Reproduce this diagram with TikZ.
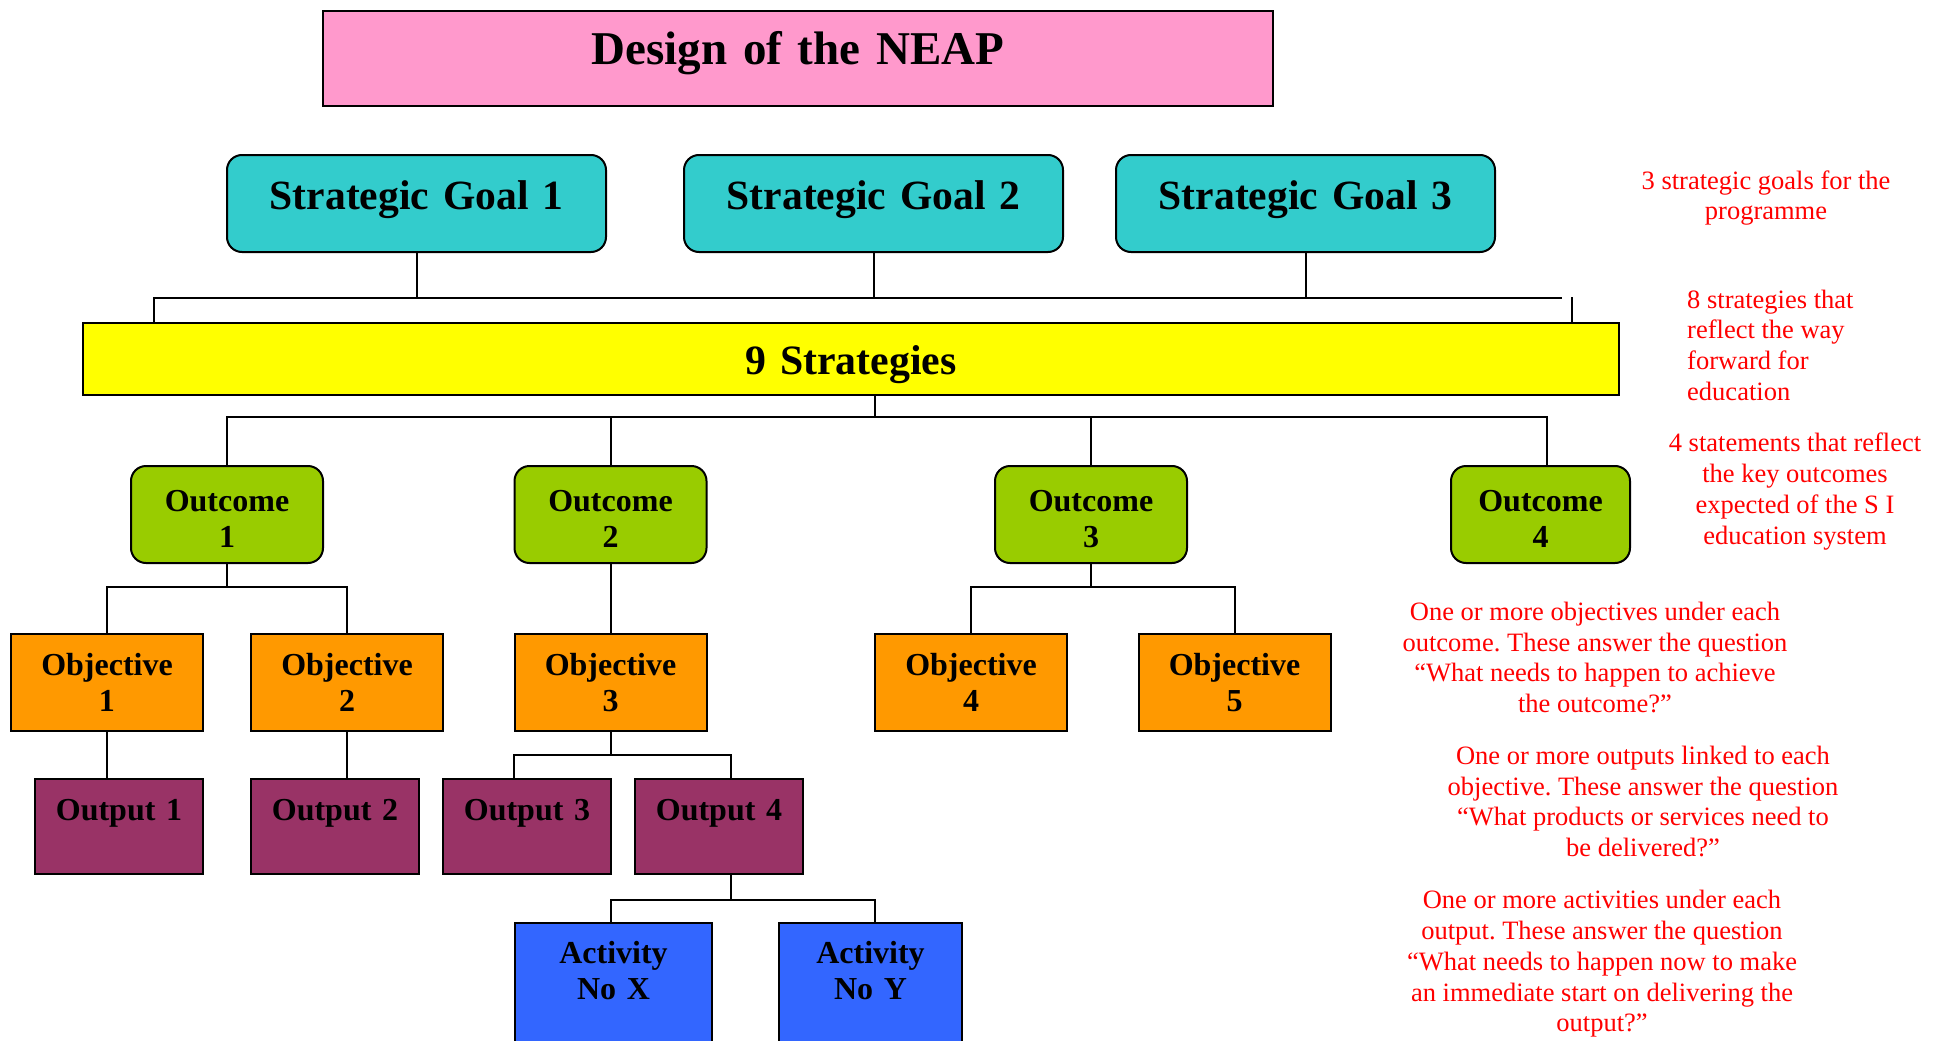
\documentclass[tikz,border=0pt]{standalone}
\usepackage{fontspec}
\setmainfont{Liberation Serif}
\usetikzlibrary{positioning}
\frenchspacing

\definecolor{titlepink}{HTML}{FF99CC}
\definecolor{goalteal}{HTML}{33CCCC}
\definecolor{stratyellow}{HTML}{FFFF00}
\definecolor{outcomegreen}{HTML}{99CC00}
\definecolor{objorange}{HTML}{FF9900}
\definecolor{outputplum}{HTML}{993366}
\definecolor{activityblue}{HTML}{3366FF}
\definecolor{notered}{HTML}{FF0000}

\begin{document}
\begin{tikzpicture}[x=1pt, y=-1pt,
  box/.style={draw, line width=2pt, inner sep=0pt, align=center, anchor=north, font=\bfseries\fontsize{32}{36}\selectfont},
  titlebox/.style={box, fill=titlepink, text width=950pt, text height=54pt, text depth=41pt, font=\bfseries\fontsize{47}{56}\selectfont},
  goalbox/.style={box, rounded corners=15pt, fill=goalteal, text width=379pt, text height=54pt, text depth=43pt, font=\bfseries\fontsize{41.6}{50}\selectfont},
  stratbox/.style={box, fill=stratyellow, text width=1536pt, text height=51pt, text depth=21pt, font=\bfseries\fontsize{41.8}{50}\selectfont},
  outcomebox/.style={box, rounded corners=15pt, fill=outcomegreen, text width=192pt, text height=45pt, text depth=52pt},
  objbox/.style={box, fill=objorange, text width=192pt, text height=41pt, text depth=56pt},
  outbox/.style={box, fill=outputplum, text width=168pt, text height=41pt, text depth=54pt},
  actbox/.style={box, fill=activityblue, text height=40pt, text depth=140pt},
  link/.style={line width=2pt},
  note/.style={text=notered, inner sep=0pt, align=center, font=\fontsize{26.5}{30.7}\selectfont}]
\useasboundingbox (0,0) rectangle (1936,1041);

\node[titlebox] (title) at (798,10) {Design of the NEAP};

\node[goalbox] (g1) at (416.5,154) {Strategic Goal 1};
\node[goalbox] (g2) at (873.5,154) {Strategic Goal 2};
\node[goalbox] (g3) at (1305.5,154) {Strategic Goal 3};

\node[stratbox] (strat) at (851,322) {9 Strategies};

\node[outcomebox] (o1) at (227,465) {Outcome\\1};
\node[outcomebox] (o2) at (610.5,465) {Outcome\\2};
\node[outcomebox] (o3) at (1091,465) {Outcome\\3};
\node[outcomebox, text width=179pt] (o4) at (1540.5,465) {Outcome\\4};

\node[objbox] (obj1) at (107,633) {Objective\\1};
\node[objbox] (obj2) at (347,633) {Objective\\2};
\node[objbox] (obj3) at (610.5,633) {Objective\\3};
\node[objbox] (obj4) at (971,633) {Objective\\4};
\node[objbox] (obj5) at (1234.5,633) {Objective\\5};

\node[outbox] (out1) at (119,778) {Output 1};
\node[outbox] (out2) at (335,778) {Output 2};
\node[outbox] (out3) at (527,778) {Output 3};
\node[outbox] (out4) at (719,778) {Output 4};

\node[actbox, text width=197pt] (actx) at (613.5,922) {Activity\\No X};
\node[actbox, text width=183pt] (acty) at (870.5,922) {Activity\\No Y};

\coordinate (gbarL) at (154,298);
\coordinate (gbarR) at (1562,298);
\coordinate (gtick) at (1572,297);
\coordinate (sbar) at (875,417);

\draw[link] (g1.south) -- (g1.south |- gbarL);
\draw[link] (g2.south) -- (g2.south |- gbarL);
\draw[link] (g3.south) -- (g3.south |- gbarL);
\draw[link] (strat.north -| gbarL) -- (gbarL) -- (gbarR);
\draw[link] (strat.north -| gtick) -- (gtick);

\draw[link] (strat.south -| sbar) -- (sbar);
\draw[link] (o1.north) |- (sbar) -| ([xshift=6.5pt]o4.north);
\draw[link] (o2.north) -- (o2.north |- sbar);
\draw[link] (o3.north) -- (o3.north |- sbar);

\draw[link] (o1.south) -- ++(0,23) -| (obj1.north);
\draw[link] (o1.south) ++(0,23) -| (obj2.north);
\draw[link] (o2.south) -- (obj3.north);
\draw[link] (o3.south) -- ++(0,23) -| (obj4.north);
\draw[link] (o3.south) ++(0,23) -| (obj5.north);

\draw[link] (obj1.south) -- (obj1.south |- out1.north);
\draw[link] (obj2.south) -- (obj2.south |- out2.north);
\draw[link] (obj3.south) -- ++(0,23) -| (out3.north -| obj3.west);
\draw[link] (obj3.south) ++(0,23) -| ([xshift=12pt]out4.north);

\draw[link] ([xshift=12pt]out4.south) -- ++(0,25) -| ([xshift=-2.5pt]actx.north);
\draw[link] ([xshift=12pt]out4.south) ++(0,25) -| ([xshift=4.5pt]acty.north);

\node[note] (n1) at (1766,198) {3 strategic goals for the\\programme};
\node[note, align=left, anchor=west] (n2) at (1687,345) {8 strategies that\\reflect the way\\forward for\\education};
\node[note] (n3) at (1795,491.5) {4 statements that reflect\\the key outcomes\\expected of the S I\\education system};
\node[note] (n4) at (1595,657.5) {One or more objectives under each\\outcome. These answer the question\\“What needs to happen to achieve\\the outcome?”};
\node[note] (n5) at (1643,801.5) {One or more outputs linked to each\\objective. These answer the question\\“What products or services need to\\be delivered?”};
\node[note] (n6) at (1602,964) {One or more activities under each\\output. These answer the question\\“What needs to happen now to make\\an immediate start on delivering the\\output?”};
\end{tikzpicture}
\end{document}
